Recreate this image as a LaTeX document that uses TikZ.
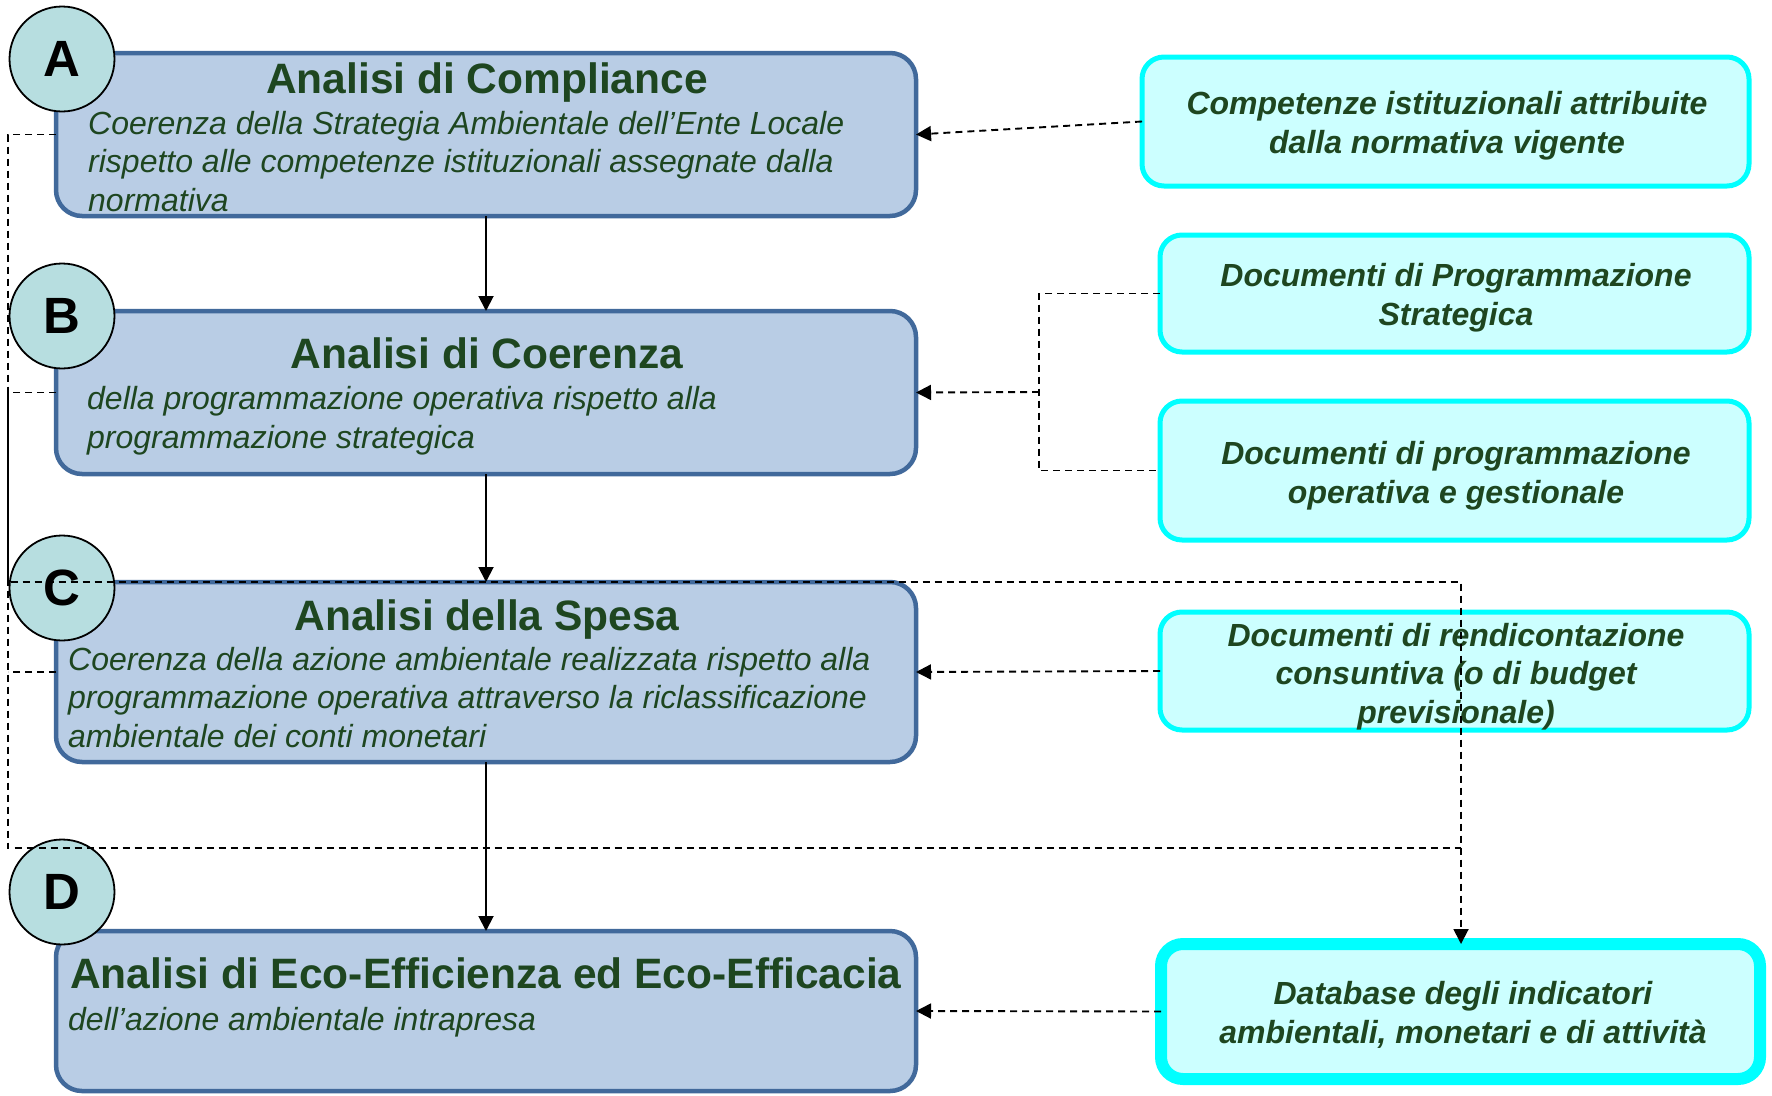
\documentclass[tikz,border=0pt]{standalone}
\usepackage{fontspec}
\setmainfont{Liberation Sans}
\usetikzlibrary{arrows.meta}
\definecolor{boxfill}{HTML}{B9CDE5}
\definecolor{boxline}{HTML}{41699B}
\definecolor{txtgreen}{HTML}{1E4620}
\definecolor{cyanfill}{HTML}{CCFFFF}
\definecolor{cyanline}{HTML}{00FFFF}
\definecolor{circfill}{HTML}{B7DEE0}
\begin{document}
\begin{tikzpicture}[x=1pt,y=-1pt,
  bluebox/.style={draw=boxline,fill=boxfill,line width=4.5pt,rounded corners=26pt,inner sep=0pt,outer sep=0pt,anchor=north west},
  cyanbox/.style={draw=cyanline,fill=cyanfill,line width=5pt,rounded corners=22pt,inner sep=0pt,outer sep=0pt,anchor=north west},
  letter/.style={circle,draw=black,line width=1.8pt,fill=circfill,minimum size=105pt,inner sep=0pt,font=\fontsize{51}{51}\selectfont\bfseries},
  title/.style={text=txtgreen,font=\fontsize{42.5}{50}\selectfont\bfseries,inner sep=0pt,anchor=base},
  body/.style={text=txtgreen,font=\fontsize{32}{38.5}\selectfont\itshape,inner sep=0pt,align=left,anchor=base west},
  side/.style={text=txtgreen,font=\fontsize{32}{38.5}\selectfont\bfseries\itshape,inner sep=0pt,align=center,anchor=base},
  arr/.style={line width=1.9pt,-{Triangle[length=15pt,width=15pt]}},
  dline/.style={line width=1.9pt,dash pattern=on 7pt off 5pt},
  darr/.style={line width=1.9pt,dash pattern=on 7pt off 5pt,-{Triangle[length=15pt,width=15pt]}}
]
\useasboundingbox (0,0) rectangle (1772,1095);

% main boxes
\node[bluebox,minimum width=860pt,minimum height=163pt] (A) at (56,53) {};
\node[bluebox,minimum width=860pt,minimum height=163pt] (B) at (56,311) {};
\node[bluebox,minimum width=860pt,minimum height=180pt] (C) at (56,582) {};
\node[bluebox,minimum width=860pt,minimum height=160pt] (D) at (56,931) {};

% side boxes
\node[cyanbox,minimum width=607pt,minimum height=129pt] (R1) at (1142,57) {};
\node[cyanbox,minimum width=589pt,minimum height=117pt] (R2) at (1160,235) {};
\node[cyanbox,minimum width=589pt,minimum height=139pt] (R3) at (1160,401) {};
\node[cyanbox,minimum width=589pt,minimum height=118pt] (R4) at (1160,612) {};
\node[cyanbox,line width=12pt,minimum width=599pt,minimum height=135pt] (R5) at (1161,944) {};

% texts in main boxes (base anchor = baseline of last line)
\node[title] (tA) at (487,93) {Analisi di Compliance};
\node[body] (bA) at (88,211) {Coerenza della Strategia Ambientale dell’Ente Locale\\rispetto alle competenze istituzionali assegnate dalla\\normativa};
\node[title] (tB) at (487,368) {Analisi di Coerenza};
\node[body] (bB) at (87,448) {della programmazione operativa rispetto alla\\programmazione strategica};
\node[title] (tC) at (487,630) {Analisi della Spesa};
\node[body] (bC) at (68,747) {Coerenza della azione ambientale realizzata rispetto alla\\programmazione operativa attraverso la riclassificazione\\ambientale dei conti monetari};
\node[title,anchor=base west] (tD) at (70,988) {Analisi di Eco-Efficienza ed Eco-Efficacia};
\node[body] (bD) at (68,1030) {dell’azione ambientale intrapresa};

% texts in side boxes
\node[side] (sR1) at (1447,153) {Competenze istituzionali attribuite\\dalla normativa vigente};
\node[side] (sR2) at (1456,325) {Documenti di Programmazione\\Strategica};
\node[side] (sR3) at (1456,503) {Documenti di programmazione\\operativa e gestionale};
\node[side] (sR4) at (1456,723) {Documenti di rendicontazione\\consuntiva (o di budget\\previsionale)};
\node[side] (sR5) at (1463,1043) {Database degli indicatori\\ambientali, monetari e di attività};

% letters
\node[letter] (cA) at (62,59) {A};
\node[letter] (cB) at (62,316) {B};
\node[letter] (cC) at (62,588) {C};
\node[letter] (cD) at (62,892) {D};

% solid arrows
\draw[arr] (A.south) -- (B.north);
\draw[arr] (B.south) -- (C.north);
\draw[arr] (C.south) -- (D.north);

% dashed arrows from sources
\coordinate (jB) at (1039,392);
\draw[darr] (R1.west) -- (A.east);
\draw[dline] (R2.west) -| (jB) |- (R3.west);
\draw[darr] (jB) -- (B.east);
\draw[darr] (R4.west) -- (C.east);
\draw[darr] (R5.west) -- (D.east);

% left feedback lines to database
\coordinate (lx) at (8,0);
\coordinate (vx) at (1461,0);
\draw[dline] (A.west) -- (A.west -| lx) -- (8,848) -- (1461,848);
\draw[darr] (B.west) -- (B.west -| lx) -- (8,582) -- (1461,582) -- (R5.north -| vx);
\draw[dline] (C.west) -- (C.west -| lx);
\end{tikzpicture}
\end{document}
